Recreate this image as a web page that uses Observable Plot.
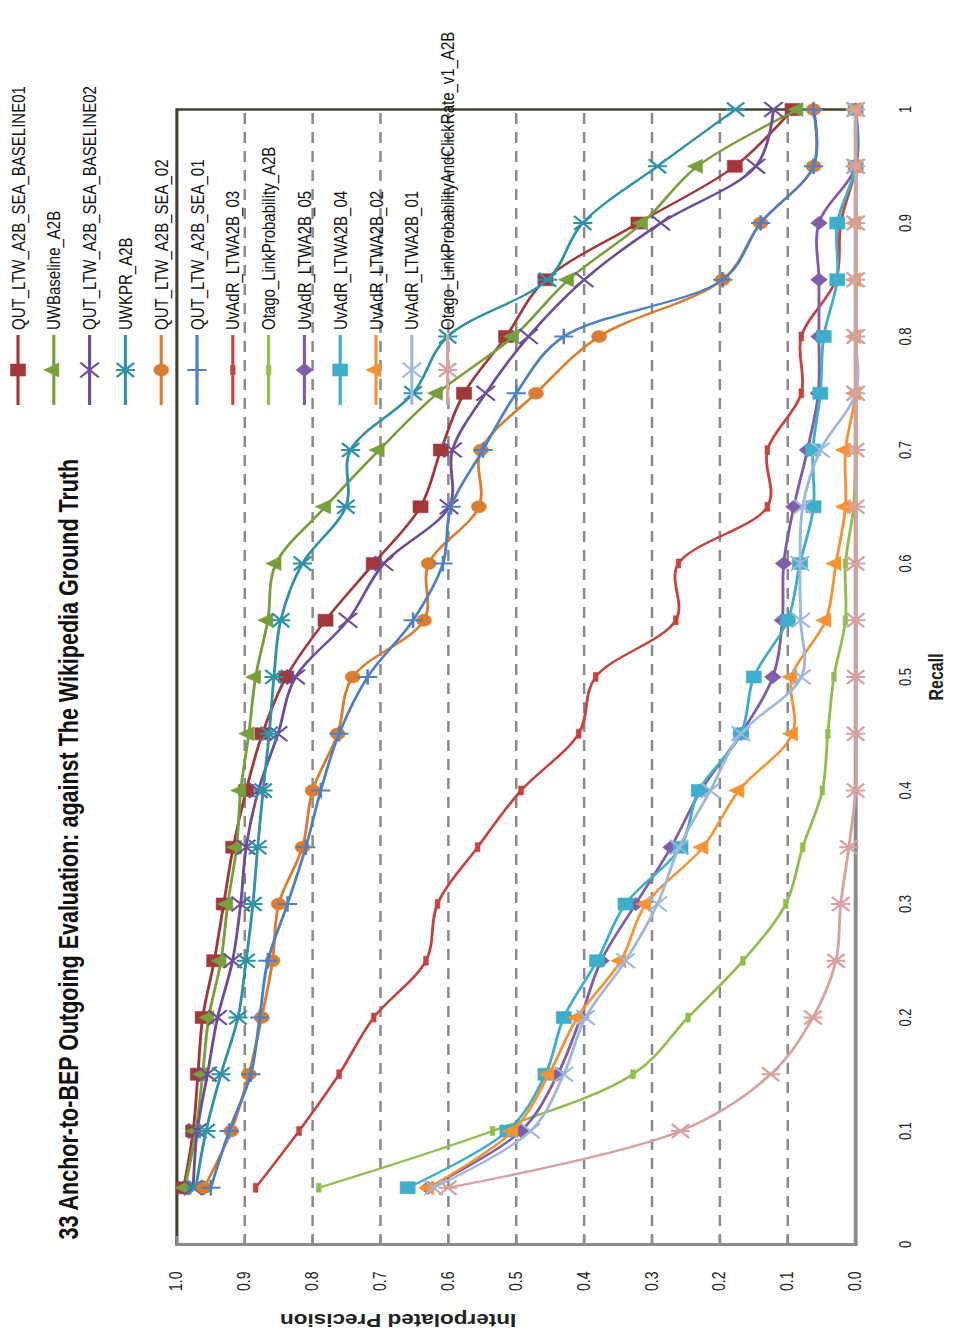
<!DOCTYPE html>
<html>
<head>
<meta charset="utf-8">
<script src="https://cdn.jsdelivr.net/npm/d3@7"></script>
<script src="https://cdn.jsdelivr.net/npm/@observablehq/plot@0.6"></script>
<style>
  html, body { margin: 0; padding: 0; background: #fff; overflow: hidden; width: 955px; height: 1336px; }
  #wrap { position: absolute; left: 0; top: 0; width: 1336px; height: 764px;
          transform-origin: 0 0; transform: translate(0px, 1336px) rotate(-90deg) scaleY(1.25); }
</style>
</head>
<body>
<div id="wrap"></div>
<script>
// ---------------- data ----------------
const chartTitle = "33 Anchor-to-BEP Outgoing Evaluation: against The Wikipedia Ground Truth";
const xLabel = "Recall";
const yLabel = "Interpolated Precision";

const recall = [0.05,0.1,0.15,0.2,0.25,0.3,0.35,0.4,0.45,0.5,0.55,0.6,0.65,0.7,0.75,0.8,0.85,0.9,0.95,1.0];
const recallTicks = [0,0.1,0.2,0.3,0.4,0.5,0.6,0.7,0.8,0.9,1];
const precisionTicks = [0,0.1,0.2,0.3,0.4,0.5,0.6,0.7,0.8,0.9,1];
const gridTicks = [0.1,0.2,0.3,0.4,0.5,0.6,0.7,0.8,0.9];

const seriesNames = [
  "QUT_LTW_A2B_SEA_BASELINE01",
  "UWBaseline_A2B",
  "QUT_LTW_A2B_SEA_BASELINE02",
  "UWKPR_A2B",
  "QUT_LTW_A2B_SEA_02",
  "QUT_LTW_A2B_SEA_01",
  "UvAdR_LTWA2B_03",
  "Otago_LinkProbability_A2B",
  "UvAdR_LTWA2B_05",
  "UvAdR_LTWA2B_04",
  "UvAdR_LTWA2B_02",
  "UvAdR_LTWA2B_01",
  "Otago_LinkProbabilityAndClickRate_v1_A2B"
];

const qutBaseline01 = [0.990,0.976,0.969,0.962,0.945,0.931,0.917,0.898,0.874,0.839,0.781,0.710,0.641,0.611,0.577,0.515,0.457,0.320,0.178,0.093];
const uwBaseline    = [0.988,0.972,0.962,0.953,0.935,0.925,0.912,0.906,0.894,0.884,0.866,0.854,0.781,0.702,0.616,0.504,0.423,0.314,0.233,0.085];
const qutBaseline02 = [0.976,0.970,0.955,0.940,0.918,0.906,0.898,0.880,0.851,0.825,0.748,0.695,0.599,0.594,0.545,0.482,0.400,0.287,0.147,0.121];
const uwkpr         = [0.972,0.957,0.935,0.910,0.898,0.888,0.881,0.873,0.864,0.857,0.847,0.815,0.751,0.744,0.652,0.601,0.454,0.402,0.292,0.177];
const qutSea02      = [0.960,0.920,0.894,0.875,0.859,0.850,0.815,0.800,0.763,0.741,0.636,0.629,0.555,0.552,0.471,0.378,0.196,0.140,0.062,0.062];
const qutSea01      = [0.950,0.923,0.891,0.878,0.866,0.837,0.810,0.788,0.761,0.719,0.652,0.608,0.596,0.549,0.500,0.430,0.196,0.140,0.062,0.062];
const uvadr03       = [0.884,0.820,0.761,0.710,0.633,0.616,0.557,0.493,0.408,0.383,0.265,0.261,0.130,0.130,0.080,0.080,0.029,0.022,0.000,0.000];
const otagoLinkProb = [0.791,0.535,0.328,0.247,0.166,0.103,0.078,0.049,0.041,0.032,0.015,0.015,0.003,0.000,0.000,0.000,0.000,0.000,0.000,0.000];
const uvadr05       = [0.630,0.493,0.439,0.405,0.375,0.324,0.272,0.228,0.169,0.122,0.108,0.106,0.091,0.071,0.055,0.054,0.054,0.054,0.000,0.000];
const uvadr04       = [0.660,0.513,0.457,0.430,0.381,0.339,0.258,0.231,0.169,0.150,0.100,0.082,0.062,0.063,0.052,0.047,0.027,0.027,0.000,0.000];
const uvadr02       = [0.629,0.505,0.452,0.410,0.346,0.309,0.225,0.172,0.093,0.094,0.044,0.029,0.015,0.015,0.000,0.000,0.000,0.000,0.000,0.000];
const uvadr01       = [0.622,0.479,0.430,0.398,0.339,0.292,0.260,0.214,0.169,0.080,0.081,0.082,0.078,0.052,0.000,0.000,0.000,0.000,0.000,0.000];
const otagoClick    = [0.601,0.258,0.125,0.063,0.029,0.022,0.010,0.000,0.000,0.000,0.000,0.000,0.000,0.000,0.000,0.000,0.000,0.000,0.000,0.000];

const seriesValues = [qutBaseline01, uwBaseline, qutBaseline02, uwkpr, qutSea02, qutSea01,
  uvadr03, otagoLinkProb, uvadr05, uvadr04, uvadr02, uvadr01, otagoClick];

// ---------------- styles ----------------
const colors = ["#A3383B","#77A03C","#6D4C9A","#2F93A8","#DC7C2E","#4C80C6",
  "#C8433F","#93BE4F","#7F5DA8","#3DAFCB","#F79232","#9EB7DD","#D9A0A0"];

const symStar = { draw(ctx, size) {
  const r = Math.sqrt(size) * 0.56;
  ctx.moveTo(-r, -r); ctx.lineTo(r, r);
  ctx.moveTo(-r, r); ctx.lineTo(r, -r);
  ctx.moveTo(0, -r * 1.1); ctx.lineTo(0, r * 1.1);
}};
const symDash = { draw(ctx, size) {
  const w = Math.sqrt(size) * 0.85, h = w * 0.42;
  ctx.rect(-w / 2, -h / 2, w, h);
}};
// [symbol, filled, r]
const markers = [
  [d3.symbolSquare, true, 6.8],
  [d3.symbolTriangle, true, 5.2],
  [d3.symbolTimes, false, 6.8],
  [symStar, false, 7],
  [d3.symbolCircle, true, 6],
  [d3.symbolPlus, false, 5],
  [symDash, true, 6],
  [symDash, true, 6],
  [d3.symbolDiamond2, true, 6],
  [d3.symbolSquare, true, 6.8],
  [d3.symbolTriangle, true, 5.2],
  [d3.symbolTimes, false, 6.8],
  [symStar, false, 7]
];

const FONT = "'Liberation Sans', Arial, sans-serif";
const S = 1.25;
const W = 1336, H = Math.round(955 / S);

// ---------------- table ----------------
const rows = seriesNames.flatMap((name, k) =>
  recall.map((r, i) => ({series: name, idx: k, recall: r, precision: seriesValues[k][i]})));

const seriesMarks = seriesNames.flatMap((name, k) => {
  const data = rows.filter(d => d.idx === k);
  const [sym, filled, r] = markers[k];
  return [
    Plot.line(data, {x: "recall", y: "precision", stroke: colors[k], strokeWidth: 2.3, curve: "catmull-rom"}),
    Plot.dot(data, {x: "recall", y: "precision", symbol: sym, r,
      fill: filled ? colors[k] : "none", stroke: colors[k], strokeWidth: filled ? 0.5 : 2})
  ];
});

const chart = Plot.plot({
  width: W, height: H,
  marginLeft: 91, marginRight: 110, marginTop: 141, marginBottom: 80,
  style: {fontFamily: FONT, fontSize: "13px", color: "#222", background: "white", overflow: "visible"},
  x: {domain: [0, 1]},
  y: {domain: [0, 1]},
  marks: [
    Plot.ruleY(gridTicks, {stroke: "#8a8a8a", strokeWidth: 2, strokeDasharray: "11,8"}),
    Plot.frame({stroke: "#424233", strokeWidth: 2.5}),
    Plot.ruleX([0], {stroke: "#8c8c8c", strokeWidth: 3}),
    Plot.ruleY([0], {stroke: "#8c8c8c", strokeWidth: 3}),
    Plot.ruleY(precisionTicks, {x1: 0, x2: 0.008, stroke: "#8c8c8c", strokeWidth: 2}),
    Plot.axisY({ticks: precisionTicks, tickFormat: d3.format(".1f"), tickSize: 0, tickPadding: 27, fontSize: 14, label: null}),
    Plot.axisX({ticks: recallTicks, tickFormat: d => String(d), tickSize: 0, tickPadding: 35, fontSize: 13, label: null}),
    ...seriesMarks,
    Plot.text([yLabel], {text: d => d, frameAnchor: "left", dx: -75, rotate: -90, fontWeight: "bold", fontSize: 18, fill: "#222"}),
    Plot.text([xLabel], {text: d => d, frameAnchor: "bottom", dy: 70, fontWeight: "bold", fontSize: 16, fill: "#222"}),
    Plot.text([chartTitle], {text: d => d, frameAnchor: "top-left", dx: 5, dy: -94, textAnchor: "start", fontWeight: "bold", fontSize: 21.5, fill: "#111"})
  ]
});

// ---------------- legend ----------------
const svg = d3.select(chart);
const lg = svg.append("g").attr("font-family", FONT).attr("font-size", 15).attr("fill", "#111")
  .attr("text-anchor", "start");
seriesNames.forEach((name, k) => {
  const [sym, filled, r] = markers[k];
  const y = 14.4 + k * 28.64;
  const g = lg.append("g").attr("transform", `translate(0,${y})`);
  g.append("line").attr("x1", 931).attr("x2", 1001).attr("y1", 0).attr("y2", 0)
    .attr("stroke", colors[k]).attr("stroke-width", 2.5);
  g.append("path").attr("transform", "translate(966,0)")
    .attr("d", d3.symbol(sym, Math.PI * r * r)())
    .attr("fill", filled ? colors[k] : "none").attr("stroke", colors[k]).attr("stroke-width", filled ? 0.5 : 2);
  g.append("text").attr("x", 1006).attr("y", 0).attr("dy", "0.35em")
    .attr("text-anchor", "start").text(name);
});

document.getElementById("wrap").appendChild(chart);
</script>
</body>
</html>
